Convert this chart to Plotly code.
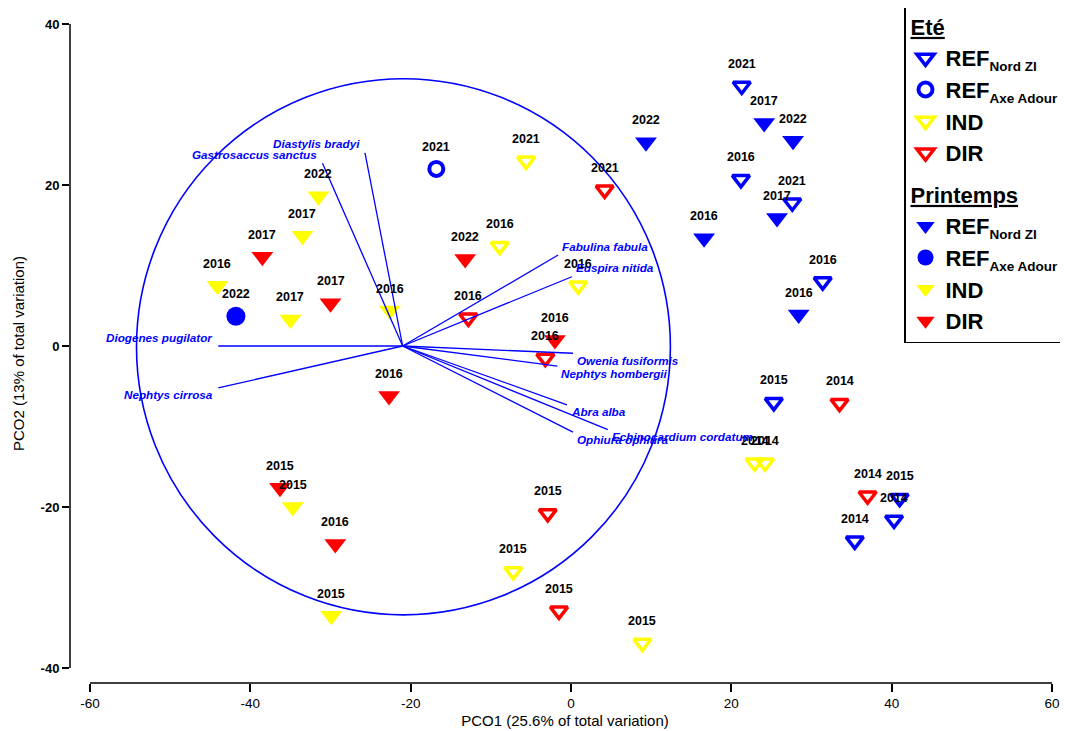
import plotly.graph_objects as go

FONT = "Liberation Sans, Arial, sans-serif"

# ---------------- data ----------------
# Eté (open symbols)
ete_ref_nord_x = [21.3, 21.2, 27.6, 31.4, 25.3, 41.0, 40.3, 35.4]
ete_ref_nord_y = [32.3, 20.7, 17.8, 8.0, -7.0, -18.9, -21.6, -24.2]
ete_ref_nord_lab = ["2021", "2016", "2021", "2016", "2015", "2015", "2014", "2014"]

ete_ref_adour_x = [-16.8]
ete_ref_adour_y = [22.0]
ete_ref_adour_lab = ["2021"]

ete_ind_x = [-5.6, -8.9, 0.9, 22.9, 24.2, -7.2, 8.9]
ete_ind_y = [23.0, 12.4, 7.5, -14.5, -14.5, -28.0, -36.9]
ete_ind_lab = ["2021", "2016", "2016", "2014", "2014", "2015", "2015"]

ete_dir_x = [4.2, -12.8, -3.2, 33.5, 37.0, -2.9, -1.5]
ete_dir_y = [19.4, 3.5, -1.5, -7.1, -18.6, -20.8, -32.9]
ete_dir_lab = ["2021", "2016", "2016", "2014", "2014", "2015", "2015"]

# Printemps (filled symbols)
pri_ref_nord_x = [9.35, 24.1, 27.7, 25.7, 16.6, 28.4]
pri_ref_nord_y = [25.3, 27.7, 25.5, 15.9, 13.4, 3.9]
pri_ref_nord_lab = ["2022", "2017", "2022", "2017", "2016", "2016"]

pri_ref_adour_x = [-41.8]
pri_ref_adour_y = [3.7]
pri_ref_adour_lab = ["2022"]

pri_ind_x = [-31.5, -33.5, -44.1, -35.0, -22.6, -34.7, -29.9]
pri_ind_y = [18.6, 13.7, 7.5, 3.3, 4.4, -20.0, -33.5]
pri_ind_lab = ["2022", "2017", "2016", "2017", "2016", "2015", "2015"]

pri_dir_x = [-38.5, -30.0, -22.7, -13.2, -2.0, -36.3, -29.4]
pri_dir_y = [11.1, 5.3, -6.2, 10.8, 0.75, -17.6, -24.6]
pri_dir_lab = ["2017", "2017", "2016", "2022", "2016", "2015", "2016"]

# Species vectors (origin and end points)
vec_origin = (-21.0, 0.0)
vec_names = ["Diogenes pugilator", "Nephtys cirrosa", "Gastrosaccus sanctus",
             "Diastylis bradyi", "Fabulina fabula", "Euspira nitida",
             "Owenia fusiformis", "Nephtys hombergii", "Abra alba",
             "Echinocardium cordatum", "Ophiura ophiura"]
vec_x = [-44.0, -44.0, -31.0, -25.7, -1.6, 0.1, 0.25, -1.7, -0.5, 4.6, 0.25]
vec_y = [0.0, -5.2, 22.7, 24.0, 11.3, 8.6, -0.9, -2.5, -7.3, -10.4, -10.7]

# correlation circle
circle_center = (-20.9, -0.1)
circle_radius = 33.3

x_ticks = [-60, -40, -20, 0, 20, 40, 60]
x_tick_text = ["-60", "-40", "-20", "0", "20", "40", "60"]
y_ticks = [-40, -20, 0, 20, 40]
y_tick_text = ["-40", "-20", "0", "20", "40"]

BLUE, YELLOW, RED = "#0000FF", "#FFFF00", "#FF0000"

def sub(txt):
    return "<sub><span style='font-size:13.5px'>" + txt + "</span></sub>"

series = [
    ("ete", "<b><u>Eté</u></b>", "REF" + sub("Nord ZI"), ete_ref_nord_x, ete_ref_nord_y, ete_ref_nord_lab, "triangle-down-open", BLUE),
    ("ete", "<b><u>Eté</u></b>", "REF" + sub("Axe Adour"), ete_ref_adour_x, ete_ref_adour_y, ete_ref_adour_lab, "circle-open", BLUE),
    ("ete", "<b><u>Eté</u></b>", "IND", ete_ind_x, ete_ind_y, ete_ind_lab, "triangle-down-open", YELLOW),
    ("ete", "<b><u>Eté</u></b>", "DIR", ete_dir_x, ete_dir_y, ete_dir_lab, "triangle-down-open", RED),
    ("pri", "<b><u>Printemps</u></b>", "REF" + sub("Nord ZI"), pri_ref_nord_x, pri_ref_nord_y, pri_ref_nord_lab, "triangle-down", BLUE),
    ("pri", "<b><u>Printemps</u></b>", "REF" + sub("Axe Adour"), pri_ref_adour_x, pri_ref_adour_y, pri_ref_adour_lab, "circle", BLUE),
    ("pri", "<b><u>Printemps</u></b>", "IND", pri_ind_x, pri_ind_y, pri_ind_lab, "triangle-down", YELLOW),
    ("pri", "<b><u>Printemps</u></b>", "DIR", pri_dir_x, pri_dir_y, pri_dir_lab, "triangle-down", RED),
]

fig = go.Figure()
annotations = []

for grp, gtitle, name, xs, ys, labs, sym, col in series:
    is_open = sym.endswith("open")
    if sym.startswith("circle"):
        size = 14 if is_open else 19
        lw = 4 if is_open else 0
    else:
        size = 15 if is_open else 19
        lw = 3.5 if is_open else 0
    fig.add_trace(go.Scatter(
        x=xs, y=ys, mode="markers", name=name,
        legendgroup=grp, legendgrouptitle=dict(text=gtitle, font=dict(size=22, family=FONT, color="black")),
        marker=dict(symbol=sym, size=size, color=col,
                    line=dict(width=lw, color=col)),
        hoverinfo="skip",
    ))
    for xv, yv, lb in zip(xs, ys, labs):
        annotations.append(dict(
            x=xv, y=yv, text="<b>" + lb + "</b>", showarrow=False,
            xanchor="center", yanchor="middle", yshift=22,
            font=dict(size=12.5, family=FONT, color="black"),
        ))

# vectors (drawn on top of markers)
vx, vy = [], []
for ex, ey in zip(vec_x, vec_y):
    vx += [vec_origin[0], ex, None]
    vy += [vec_origin[1], ey, None]
fig.add_trace(go.Scatter(x=vx, y=vy, mode="lines", line=dict(color=BLUE, width=1.3),
                         showlegend=False, hoverinfo="skip"))

for nm, ex, ey in zip(vec_names, vec_x, vec_y):
    left = ex < vec_origin[0]
    annotations.append(dict(
        x=ex, y=ey, text="<b><i>" + nm + "</i></b>", showarrow=False,
        xanchor="right" if left else "left", yanchor="middle",
        xshift=-3 if left else 2, yshift=9 if ey >= 0 else -7,
        font=dict(size=11.7, family=FONT, color=BLUE),
    ))

shapes = [
    dict(type="circle", xref="x", yref="y",
         x0=circle_center[0] - circle_radius, x1=circle_center[0] + circle_radius,
         y0=circle_center[1] - circle_radius, y1=circle_center[1] + circle_radius,
         line=dict(color=BLUE, width=1.6), layer="above"),
    # offset axis lines
    dict(type="line", xref="paper", yref="y", x0=0, x1=0, y0=min(y_ticks), y1=max(y_ticks),
         line=dict(color="black", width=1.5)),
    dict(type="line", xref="x", yref="paper", x0=min(x_ticks), x1=max(x_ticks), y0=0, y1=0,
         line=dict(color="black", width=1.5)),
]

# page has an 8px body margin: figure is 1060x723 so it fills the 1068x731 window
fig.update_layout(
    width=1060, height=723,
    margin=dict(l=62, r=8, t=16, b=48, autoexpand=False),
    paper_bgcolor="white", plot_bgcolor="white",
    font=dict(family=FONT, color="black"),
    showlegend=True,
    legend=dict(
        xref="paper", yref="paper", x=(896 - 62) / 990, y=(675 + 4) / 659,
        xanchor="left", yanchor="top",
        bordercolor="black", borderwidth=1.5, bgcolor="white",
        font=dict(size=22, family=FONT, color="black", weight="bold"),
        traceorder="grouped", tracegroupgap=10,
    ),
    annotations=annotations,
    shapes=shapes,
)

fig.update_xaxes(
    range=[-62.495, 61.0], tickvals=x_ticks, ticktext=x_tick_text, ticks="outside", ticklen=8,
    tickcolor="black", tickwidth=1.5, showgrid=False, zeroline=False, showline=False,
    automargin=False,
    tickfont=dict(size=13.5, family=FONT, color="black"),
    title=dict(text="PCO1 (25.6% of total variation)", font=dict(size=15, family=FONT), standoff=5),
)
fig.update_yaxes(
    range=[-41.863, 40.0], tickvals=y_ticks, ticktext=y_tick_text, ticks="outside", ticklen=7,
    tickcolor="black", tickwidth=1.5, showgrid=False, zeroline=False, showline=False,
    automargin=False,
    tickfont=dict(size=13, family=FONT, color="black", weight="bold"),
    title=dict(text="PCO2 (13% of total variation)", font=dict(size=15, family=FONT), standoff=12),
)

fig.write_html("out.html")
